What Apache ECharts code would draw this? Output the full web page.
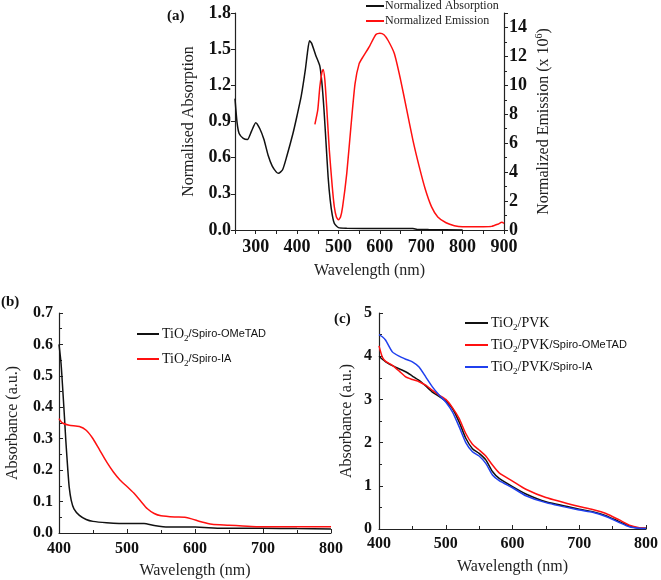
<!DOCTYPE html>
<html><head><meta charset="utf-8">
<script src="https://cdn.jsdelivr.net/npm/echarts@6/dist/echarts.min.js"></script>
<style>html,body{margin:0;padding:0;background:#fff}#c{width:661px;height:580px}</style>
</head><body><div id="c"></div>
<script>
// Panel (a)
const absWl = [250,255,260,270,280,290,300,310,320,330,340,350,355,365,375,390,400,410,420,425,430,435,445,455,460,465,470,475,480,485,490,500,520,600,680,690,720,800];
const absVal = [1.09,0.89,0.80,0.76,0.75,0.82,0.89,0.84,0.75,0.62,0.53,0.48,0.47,0.50,0.61,0.80,0.95,1.11,1.33,1.47,1.57,1.55,1.45,1.36,1.22,1.00,0.72,0.44,0.25,0.125,0.055,0.02,0.015,0.012,0.012,0.005,0.003,0.0];
const emWl = [443,450,455,460,463,467,472,478,485,490,495,500,505,510,520,530,540,550,560,575,590,600,610,620,635,650,665,680,695,710,725,740,760,780,800,850,870,885,895,900];
const emVal = [7.3,8.3,9.9,10.9,11.1,10.4,8.3,5.5,3.0,1.6,0.9,0.7,0.9,1.6,3.9,7.1,10.1,11.5,12.0,12.7,13.5,13.6,13.5,13.1,12.2,10.4,8.3,6.2,4.4,2.8,1.6,0.9,0.5,0.3,0.23,0.23,0.25,0.4,0.53,0.46];
// Panel (b)
const bBlackWl = [400,403,405,408,410,413,415,418,422,430,440,450,470,500,525,540,560,600,640,700,750,800];
const bBlackVal = [0.60,0.54,0.475,0.37,0.295,0.20,0.146,0.104,0.077,0.056,0.043,0.037,0.033,0.030,0.030,0.024,0.019,0.019,0.015,0.015,0.014,0.013];
const bRedWl = [400,405,415,430,440,450,460,470,480,490,500,510,520,530,540,550,570,585,595,610,625,650,670,690,800];
const bRedVal = [0.364,0.35,0.343,0.339,0.327,0.30,0.263,0.226,0.194,0.168,0.148,0.127,0.102,0.077,0.062,0.055,0.051,0.05,0.045,0.035,0.028,0.025,0.022,0.02,0.02];
// Panel (c)
const cWl = [400,405,410,420,430,440,450,460,470,480,490,500,510,520,530,540,550,560,570,580,600,620,650,700,720,740,760,775,790,800];
const cPvk = [4.0,3.93,3.87,3.78,3.71,3.64,3.54,3.44,3.31,3.17,3.07,2.96,2.79,2.48,2.10,1.86,1.75,1.60,1.33,1.17,0.98,0.81,0.63,0.46,0.40,0.31,0.17,0.07,0.02,0.015];
const cOme = [4.24,3.98,3.88,3.79,3.66,3.52,3.46,3.41,3.33,3.21,3.10,3.0,2.81,2.56,2.21,1.96,1.83,1.69,1.48,1.30,1.11,0.92,0.73,0.52,0.45,0.36,0.21,0.09,0.03,0.02];
const cIa = [4.5,4.45,4.37,4.1,4.0,3.93,3.87,3.75,3.52,3.29,3.10,2.94,2.71,2.37,2.0,1.79,1.69,1.52,1.25,1.12,0.955,0.77,0.61,0.44,0.39,0.29,0.15,0.05,0.015,0.01];
// Tick settings
const aLeftTicks = {min:0, max:1.8, interval:0.3};
const aRightTicks = {min:0, max:15, interval:2};
const aXTicks = {min:250, max:900, interval:50};
const bYTicks = {min:0, max:0.7, interval:0.1};
const cYTicks = {min:0, max:5, interval:1};
const bcXTicks = {min:400, max:800, interval:100};

const zip = (xs, ys) => xs.map((x, i) => [x, ys[i]]);
const SERIF = 'Liberation Serif';
const SANS = 'Liberation Sans';
const axisLine = {show:true, onZero:false, lineStyle:{color:'#222', width:1.2}};
const tickLbl = (size, margin) => ({fontFamily:SERIF, fontWeight:'bold', fontSize:size, color:'#111', margin:margin});
const nameStyle = {fontFamily:SERIF, fontSize:16, color:'#222'};

const chart = echarts.init(document.getElementById('c'), null, {renderer:'canvas'});
const richLegend = {
  s:{fontFamily:SERIF, fontSize:14, color:'#111', lineHeight:18},
  sub:{fontFamily:SERIF, fontSize:9, color:'#111', lineHeight:18, padding:[9,0,0,0]},
  a:{fontFamily:SANS, fontSize:11, color:'#111', lineHeight:18}
};
const fmtTiO = name => {
  const rest = name.replace('TiO2/', '/');
  const parts = rest.split('/').filter(p=>p);
  let out = '{s|TiO}{sub|2}';
  parts.forEach(p => {
    if (p === 'PVK') out += '{s|/PVK}';
    else out += '{a|/' + p + '}';
  });
  return out;
};

chart.setOption({
  animation:false,
  backgroundColor:'#fff',
  grid:[
    {left:235, top:13, width:269, height:217},
    {left:59, top:313, width:272, height:220},
    {left:379, top:313, width:269, height:216}
  ],
  xAxis:[
    {type:'value', gridIndex:0, ...aXTicks, name:'Wavelength (nm)', nameLocation:'middle', nameGap:33, nameTextStyle:nameStyle,
     axisLine, axisTick:{show:true, length:4, lineStyle:{color:'#222'}}, splitLine:{show:false},
     axisLabel:{...tickLbl(18,8), formatter:v => (v % 100 === 0 && v > 250) ? String(v) : ''}},
    {type:'value', gridIndex:1, ...bcXTicks, name:'Wavelength (nm)', nameLocation:'middle', nameGap:30, nameTextStyle:nameStyle,
     axisLine, axisTick:{show:true, inside:true, length:4, lineStyle:{color:'#222'}},
     minorTick:{show:true, splitNumber:2, length:3, lineStyle:{color:'#222'}}, splitLine:{show:false},
     axisLabel:tickLbl(16,8)},
    {type:'value', gridIndex:2, ...bcXTicks, name:'Wavelength (nm)', nameLocation:'middle', nameGap:30, nameTextStyle:nameStyle,
     axisLine, axisTick:{show:true, inside:true, length:4, lineStyle:{color:'#222'}},
     minorTick:{show:true, splitNumber:2, length:3, lineStyle:{color:'#222'}}, splitLine:{show:false},
     axisLabel:tickLbl(16,7)}
  ],
  yAxis:[
    {type:'value', gridIndex:0, ...aLeftTicks, name:'Normalised Absorption', nameLocation:'middle', nameGap:38, nameTextStyle:nameStyle,
     axisLine, axisTick:{show:true, length:4, lineStyle:{color:'#222'}}, splitLine:{show:false},
     axisLabel:{...tickLbl(18,4), formatter:v => v.toFixed(1)}},
    {type:'value', gridIndex:0, position:'right', ...aRightTicks, name:'{t|Normalized Emission (x 10}{sup|6}{t|)}', nameLocation:'middle', nameGap:30,
     nameTextStyle:{...nameStyle, rich:{t:{fontFamily:SERIF, fontSize:16, color:'#222'}, sup:{fontFamily:SERIF, fontSize:10, color:'#222', padding:[0,0,10,0]}}},
     axisLine, axisTick:{show:true, length:4, lineStyle:{color:'#222'}},
     minorTick:{show:true, splitNumber:2, length:3, lineStyle:{color:'#222'}}, splitLine:{show:false},
     axisLabel:{...tickLbl(18,5), showMaxLabel:false, formatter:v => (v % 2 === 0) ? String(v) : ''}},
    {type:'value', gridIndex:1, ...bYTicks, name:'Absorbance (a.u.)', nameLocation:'middle', nameGap:38, nameTextStyle:nameStyle,
     axisLine, axisTick:{show:true, inside:true, length:4, lineStyle:{color:'#222'}},
     minorTick:{show:true, splitNumber:2, length:3, lineStyle:{color:'#222'}}, splitLine:{show:false},
     axisLabel:{...tickLbl(16,6), formatter:v => v.toFixed(1)}},
    {type:'value', gridIndex:2, ...cYTicks, name:'Absorbance (a.u.)', nameLocation:'middle', nameGap:24, nameTextStyle:nameStyle,
     axisLine, axisTick:{show:true, inside:true, length:4, lineStyle:{color:'#222'}},
     minorTick:{show:true, splitNumber:2, length:3, lineStyle:{color:'#222'}}, splitLine:{show:false},
     axisLabel:tickLbl(16,7)}
  ],
  legend:[
    {left:366, top:-1, padding:0, orient:'vertical', icon:'rect', itemWidth:18, itemHeight:2, itemGap:1,
     data:['Normalized Absorption','Normalized Emission'],
     textStyle:{fontFamily:SERIF, fontSize:12, lineHeight:14, color:'#222', padding:[0,0,0,-4]}},
    {left:137, top:325, padding:0, orient:'vertical', icon:'rect', itemWidth:22, itemHeight:2, itemGap:7,
     data:['TiO2/Spiro-OMeTAD','TiO2/Spiro-IA'], formatter:fmtTiO,
     textStyle:{rich:richLegend, padding:[0,0,0,-2]}},
    {left:465, top:314, padding:0, orient:'vertical', icon:'rect', itemWidth:23, itemHeight:2, itemGap:4,
     data:['TiO2/PVK','TiO2/PVK/Spiro-OMeTAD','TiO2/PVK/Spiro-IA'], formatter:fmtTiO,
     textStyle:{rich:richLegend, padding:[0,0,0,-2]}}
  ],
  graphic:[
    {type:'text', left:167, top:9, style:{text:'(a)', font:'bold 15px "Liberation Serif"', fill:'#111'}},
    {type:'text', left:1, top:295, style:{text:'(b)', font:'bold 15px "Liberation Serif"', fill:'#111'}},
    {type:'text', left:334, top:312, style:{text:'(c)', font:'bold 15px "Liberation Serif"', fill:'#111'}}
  ],
  series:[
    {name:'Normalized Absorption', type:'line', xAxisIndex:0, yAxisIndex:0, data:zip(absWl, absVal), smooth:0.2, showSymbol:false, lineStyle:{color:'#111', width:1.5}, itemStyle:{color:'#111'}},
    {name:'Normalized Emission', type:'line', xAxisIndex:0, yAxisIndex:1, data:zip(emWl, emVal), smooth:0.2, showSymbol:false, lineStyle:{color:'#ff1010', width:1.5}, itemStyle:{color:'#ff1010'}},
    {name:'TiO2/Spiro-OMeTAD', type:'line', xAxisIndex:1, yAxisIndex:2, data:zip(bBlackWl, bBlackVal), smooth:0.2, showSymbol:false, lineStyle:{color:'#111', width:1.5}, itemStyle:{color:'#111'}},
    {name:'TiO2/Spiro-IA', type:'line', xAxisIndex:1, yAxisIndex:2, data:zip(bRedWl, bRedVal), smooth:0.2, showSymbol:false, lineStyle:{color:'#ff1010', width:1.5}, itemStyle:{color:'#ff1010'}},
    {name:'TiO2/PVK', type:'line', xAxisIndex:2, yAxisIndex:3, data:zip(cWl, cPvk), smooth:0.2, showSymbol:false, lineStyle:{color:'#111', width:1.5}, itemStyle:{color:'#111'}},
    {name:'TiO2/PVK/Spiro-OMeTAD', type:'line', xAxisIndex:2, yAxisIndex:3, data:zip(cWl, cOme), smooth:0.2, showSymbol:false, lineStyle:{color:'#ff1010', width:1.5}, itemStyle:{color:'#ff1010'}},
    {name:'TiO2/PVK/Spiro-IA', type:'line', xAxisIndex:2, yAxisIndex:3, data:zip(cWl, cIa), smooth:0.2, showSymbol:false, lineStyle:{color:'#2040ee', width:1.5}, itemStyle:{color:'#2040ee'}}
  ]
});
</script></body></html>
